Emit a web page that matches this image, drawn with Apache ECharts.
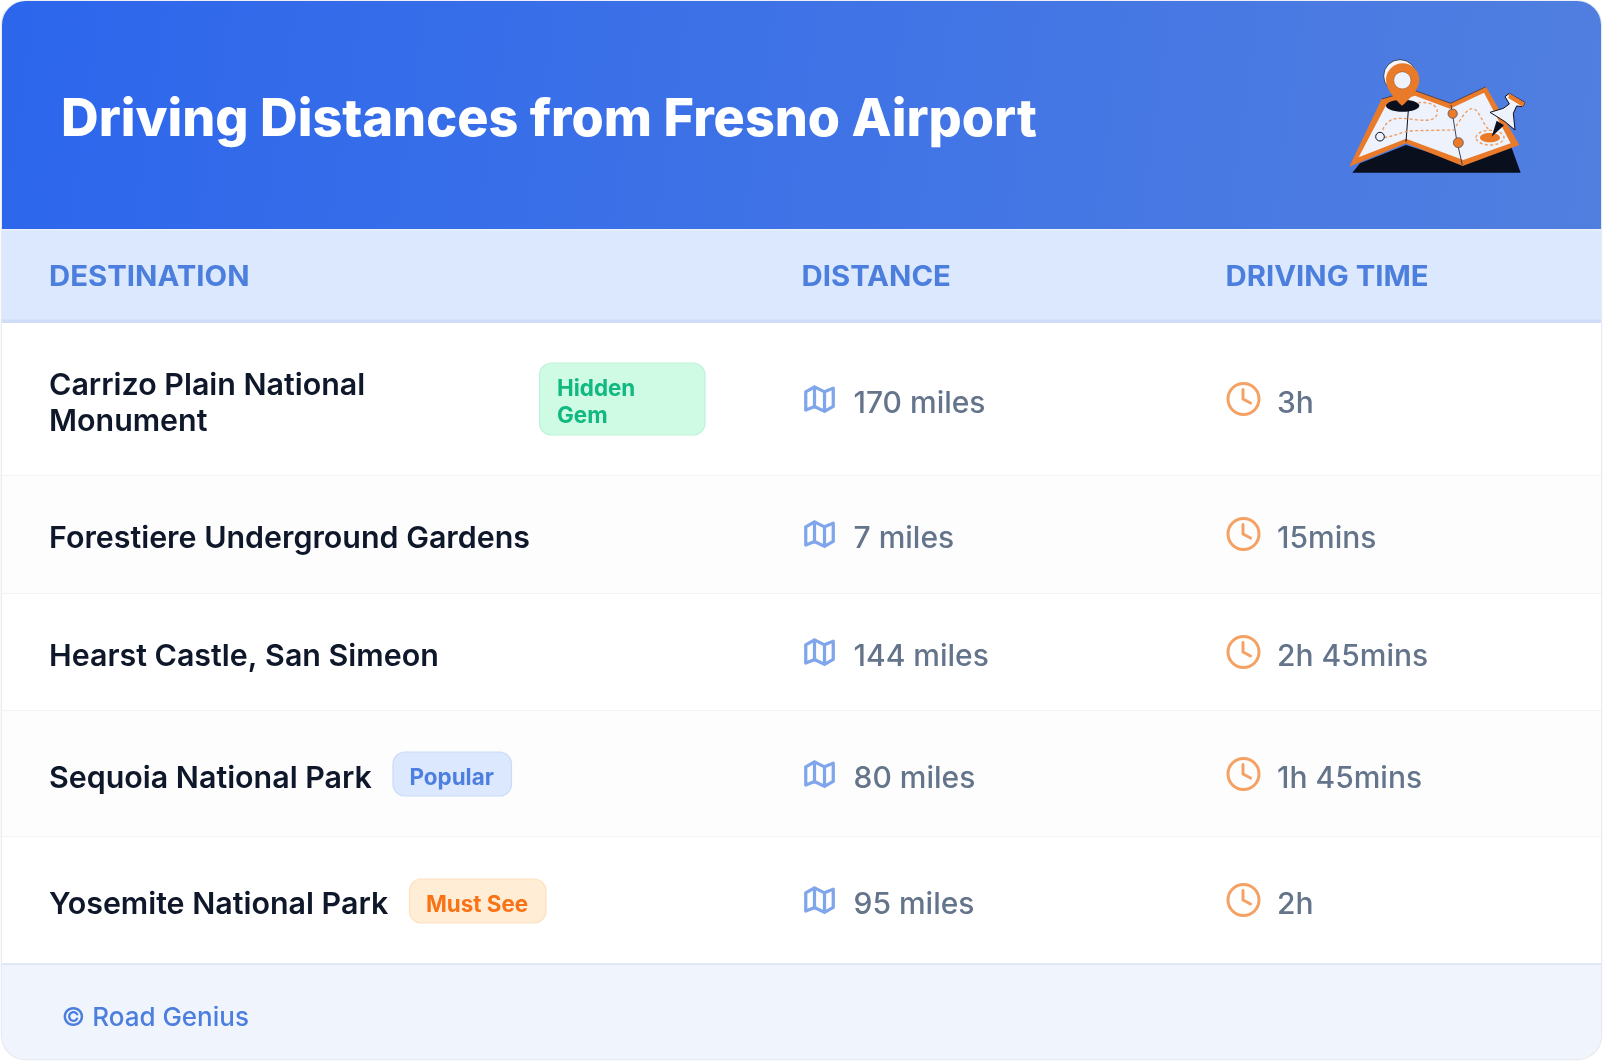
<!DOCTYPE html>
<html>
<head>
<meta charset="utf-8">
<title>Driving Distances from Fresno Airport</title>
<script src="https://cdn.jsdelivr.net/npm/echarts@6/dist/echarts.min.js"></script>
<style>
html, body { margin: 0; padding: 0; background: #fff; }
#main { width: 1604px; height: 1062px; }
</style>
</head>
<body>
<div id="main"></div>
<script>
const title = 'Driving Distances from Fresno Airport';
const columns = ['DESTINATION', 'DISTANCE', 'DRIVING TIME'];
const destinations = [
  ['Carrizo Plain National', 'Monument'],
  ['Forestiere Underground Gardens'],
  ['Hearst Castle, San Simeon'],
  ['Sequoia National Park'],
  ['Yosemite National Park']
];
const distances = ['170 miles', '7 miles', '144 miles', '80 miles', '95 miles'];
const times = ['3h', '15mins', '2h 45mins', '1h 45mins', '2h'];
const badges = [['Hidden', 'Gem'], null, null, ['Popular'], ['Must See']];
const footer = '© Road Genius';

// layout, px
const FONT = 'Inter';
const rowEdges = [323, 476, 594, 711, 837, 964];
const rowMid = [404, 539, 657, 779, 905];
const colX = [49, 801.5, 1225.5];
const badgeBox = [
  { x: 539.5, y: 363, w: 165.5, h: 72, tx: 557, c: '#cffae4', b: '#bff2d9', t: '#10b981' },
  null,
  null,
  { x: 393, y: 752, w: 118.5, h: 44, tx: 409.5, c: '#dbe8fe', b: '#cbdcf9', t: '#4d7fe0' },
  { x: 409.5, y: 879, w: 136.5, h: 44, tx: 426, c: '#ffedd5', b: '#fce0c0', t: '#f97316' }
];
const mapColor = '#7fa5ea';
const clockColor = '#f4a163';

function text (str, x, y, size, weight, fill, stretch) {
  return {
    type: 'text',
    x: x,
    y: y,
    scaleX: stretch || 1,
    style: {
      text: str, x: 0, y: 0, fill: fill,
      fontFamily: FONT, fontSize: size, fontWeight: weight,
      textVerticalAlign: 'middle'
    }
  };
}

function mapIcon (cx, cy) {
  return {
    type: 'group', x: cx - 15, y: cy - 14.5, scaleX: 1.25, scaleY: 1.22,
    children: [{
      type: 'path',
      shape: { pathData: 'M1 6V21L8 18L16 22L23 18V3L16 6L8 2Z M8 2V18 M16 6V22' },
      style: { fill: 'none', stroke: mapColor, lineWidth: 2.6, lineJoin: 'round', lineCap: 'round' }
    }]
  };
}

function clockIcon (cx, cy) {
  return {
    type: 'group', x: cx, y: cy,
    children: [{
      type: 'circle', shape: { cx: 0, cy: 0, r: 15.5 },
      style: { fill: 'none', stroke: clockColor, lineWidth: 3 }
    }, {
      type: 'path', shape: { pathData: 'M-0.5 -9.5V0L7 4' },
      style: { fill: 'none', stroke: clockColor, lineWidth: 3, lineCap: 'round', lineJoin: 'round' }
    }]
  };
}

// illustration, drawn in 3x coordinates
function mapArt () {
  const orange = '#e97a2a', ink = '#0a0f1e', paper = '#edf2fc';
  const dash = { fill: 'none', stroke: '#ef9a5c', lineWidth: 4, lineDash: [9, 7] };
  return {
    type: 'group', x: 1280, y: 30, scaleX: 1 / 3, scaleY: 1 / 3,
    children: [
      { type: 'path', shape: { pathData: 'M217 428L240 400L378 345L548 400L690 340L722 428Z' }, style: { fill: ink } },
      { type: 'path', shape: { pathData: 'M208 410L305 207L400 180L512 220L618 170L718 345L548 408L378 340Z' }, style: { fill: orange } },
      { type: 'path', shape: { pathData: 'M305 207L400 180L512 220L618 170' }, style: { fill: 'none', stroke: ink, lineWidth: 1.5 } },
      { type: 'path', shape: { pathData: 'M236 382L320 222L405 197L510 236L612 188L692 340L550 390L378 326Z' }, style: { fill: paper } },
      { type: 'path', shape: { pathData: 'M385 240L378 335' }, style: { fill: 'none', stroke: ink, lineWidth: 3 } },
      { type: 'path', shape: { pathData: 'M513 225L530 330L547 405' }, style: { fill: 'none', stroke: '#3b4257', lineWidth: 3 } },
      { type: 'path', shape: { pathData: 'M312 322C345 320 360 305 400 302L522 300' }, style: dash },
      { type: 'path', shape: { pathData: 'M308 300C320 270 340 262 380 266C420 270 465 280 472 250C474 225 450 215 415 218' }, style: dash },
      { type: 'path', shape: { pathData: 'M528 288C545 265 560 235 578 236C600 240 605 280 628 300' }, style: dash },
      { type: 'ellipse', shape: { cx: 630, cy: 323, rx: 42, ry: 22 }, style: dash },
      { type: 'ellipse', shape: { cx: 630, cy: 323, rx: 30, ry: 14 }, style: { fill: orange } },
      { type: 'circle', shape: { cx: 518, cy: 251, r: 14 }, style: { fill: orange, stroke: '#3b4257', lineWidth: 2 } },
      { type: 'circle', shape: { cx: 535, cy: 338, r: 15 }, style: { fill: orange, stroke: '#3b4257', lineWidth: 2 } },
      { type: 'circle', shape: { cx: 300, cy: 320, r: 13 }, style: { fill: paper, stroke: ink, lineWidth: 3 } },
      { type: 'ellipse', shape: { cx: 368, cy: 227, rx: 50, ry: 18 }, style: { fill: ink } },
      { type: 'circle', shape: { cx: 360, cy: 138, r: 49 }, style: { fill: '#f4f7fd', stroke: ink, lineWidth: 2 } },
      { type: 'path', shape: { pathData: 'M318 150A50 50 0 1 1 418 150C418 178 388 208 366 227C344 208 318 178 318 150Z' }, style: { fill: orange } },
      { type: 'circle', shape: { cx: 367, cy: 151, r: 26 }, style: { fill: paper, stroke: '#a85a1f', lineWidth: 2 } },
      { type: 'path', shape: { pathData: 'M635 320L650 272L672 286Z' }, style: { fill: ink } },
      { type: 'path', shape: { pathData: 'M630 247L670 235L688 222L675 200L688 190L735 218L728 230L710 228L700 250L705 300L675 275Z' }, style: { fill: paper, stroke: ink, lineWidth: 3, lineJoin: 'round' } },
      { type: 'path', shape: { pathData: 'M688 190L735 218L728 230L685 204Z' }, style: { fill: orange } }
    ]
  };
}

const elements = [];

// card
elements.push({ type: 'rect', shape: { x: 1.5, y: 1, width: 1600, height: 1058.5, r: 24 }, style: { fill: '#fff', stroke: '#e7eaf1', lineWidth: 1.5 } });
// banner
elements.push({
  type: 'rect',
  shape: { x: 2, y: 1, width: 1599, height: 228, r: [24, 24, 0, 0] },
  style: { fill: new echarts.graphic.LinearGradient(0, 0, 1, 1, [{ offset: 0, color: '#2c66ec' }, { offset: 1, color: '#517fe0' }]) }
});
elements.push(text(title, 61, 120.5, 52.1, 800, '#fff'));
elements.push(mapArt());

// table head
elements.push({ type: 'rect', shape: { x: 2, y: 229, width: 1599, height: 91 }, style: { fill: '#dbe8fd' } });
elements.push({ type: 'rect', shape: { x: 2, y: 229, width: 1599, height: 1.5 }, style: { fill: '#e8f0fd' } });
elements.push({ type: 'rect', shape: { x: 2, y: 319.5, width: 1599, height: 3.5 }, style: { fill: '#cfdef6' } });
columns.forEach(function (name, i) {
  elements.push(text(name, colX[i], 278, 28, 700, '#4c7ede', 1.048));
});

// rows
destinations.forEach(function (lines, i) {
  const top = rowEdges[i], bottom = rowEdges[i + 1], mid = rowMid[i];
  elements.push({ type: 'rect', shape: { x: 2, y: top, width: 1599, height: bottom - top }, style: { fill: i % 2 ? '#fdfdfe' : '#fff' } });
  if (i < destinations.length - 1) {
    elements.push({ type: 'rect', shape: { x: 2, y: bottom - 1, width: 1599, height: 1.2 }, style: { fill: '#f1f3f6' } });
  }
  if (lines.length > 1) {
    elements.push(text(lines[0], colX[0], mid - 18, 30.4, 600, '#0f172a'));
    elements.push(text(lines[1], colX[0], mid + 18, 30.4, 600, '#0f172a'));
  } else {
    elements.push(text(lines[0], colX[0], mid, 30.4, 600, '#0f172a'));
  }
  const b = badgeBox[i];
  if (b) {
    elements.push({ type: 'rect', shape: { x: b.x, y: b.y, width: b.w, height: b.h, r: 12 }, style: { fill: b.c, stroke: b.b, lineWidth: 1.2 } });
    badges[i].forEach(function (t, k) {
      const ty = b.y + b.h / 2 + 4 + (k - (badges[i].length - 1) / 2) * 27;
      elements.push(text(t, b.tx, ty, 22.4, 700, b.t));
    });
  }
  elements.push(mapIcon(819.5, mid - 5));
  elements.push(text(distances[i], 853.5, mid, 30, 500, '#64748b'));
  elements.push(clockIcon(1243.5, mid - 5));
  elements.push(text(times[i], 1277, mid, 30, 500, '#64748b'));
});

// footer
elements.push({ type: 'rect', shape: { x: 2, y: 964, width: 1599, height: 95, r: [0, 0, 24, 24] }, style: { fill: '#eff4fd' } });
elements.push({ type: 'rect', shape: { x: 2, y: 963, width: 1599, height: 2 }, style: { fill: '#dfe7f6' } });
elements.push(text(footer, 61.5, 1018, 26, 500, '#4c7ede'));

var myChart = echarts.init(document.getElementById('main'));
myChart.setOption({
  animation: false,
  backgroundColor: '#fff',
  series: [{
    type: 'custom',
    coordinateSystem: 'none',
    silent: true,
    data: [0],
    renderItem: function () {
      return { type: 'group', children: elements };
    }
  }]
});
</script>
</body>
</html>
